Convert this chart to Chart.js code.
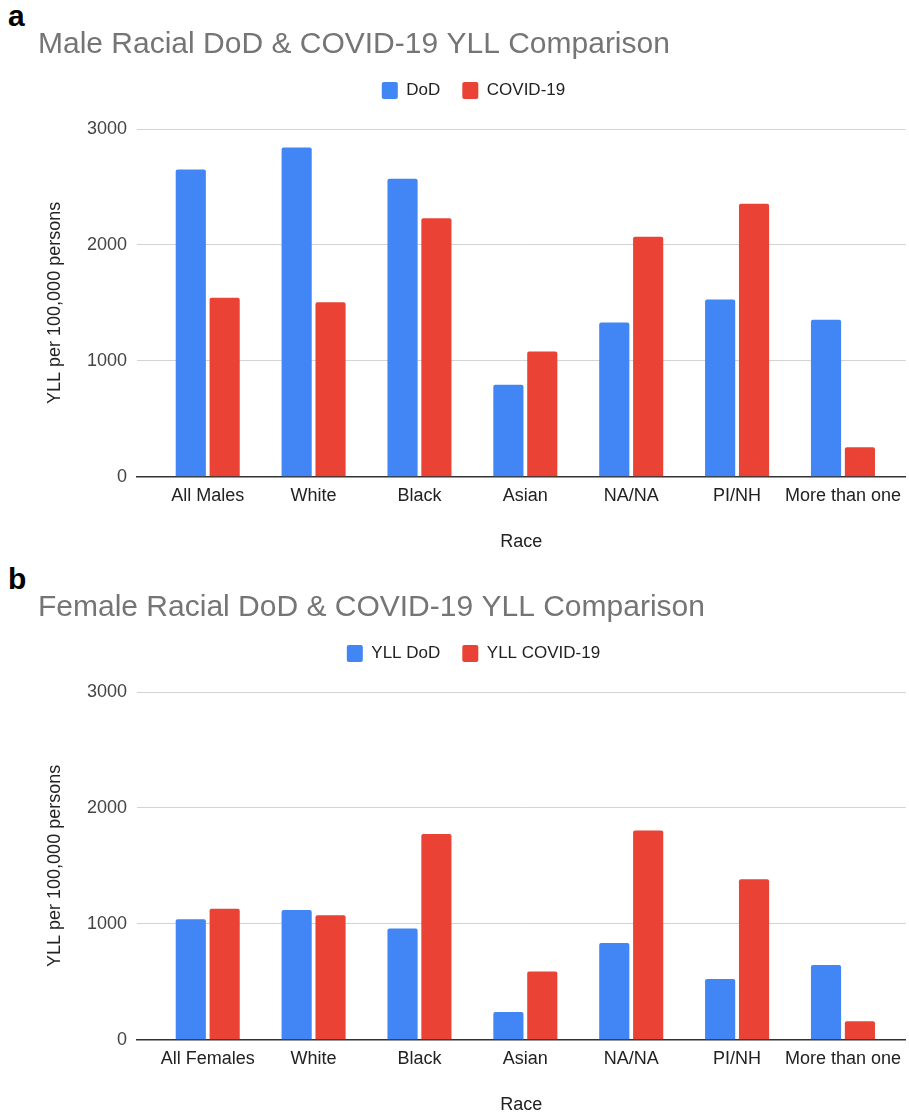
<!DOCTYPE html>
<html>
<head>
<meta charset="utf-8">
<script src="https://cdn.jsdelivr.net/npm/chart.js@4"></script>
<style>
  html, body { margin: 0; padding: 0; background: #fff; overflow: hidden; }
  body { width: 909px; height: 1117px; position: relative; font-family: "Liberation Sans", Arial, sans-serif; }
  .panel { position: absolute; left: 8px; font-weight: bold; font-size: 30px; line-height: 30px; color: #000; }
  canvas { position: absolute; left: 0; }
</style>
</head>
<body>
<div class="panel" style="top: 1px;">a</div>
<canvas id="maleChart" width="909" height="554" style="top: 0px;"></canvas>
<div class="panel" style="top: 564px;">b</div>
<canvas id="femaleChart" width="909" height="554" style="top: 563px;"></canvas>
<script>
const maleCategories = ["All Males", "White", "Black", "Asian", "NA/NA", "PI/NH", "More than one"];
const maleDod = [2650, 2840, 2570, 795, 1330, 1530, 1355];
const maleCovid = [1545, 1505, 2230, 1080, 2070, 2355, 255];

const femaleCategories = ["All Females", "White", "Black", "Asian", "NA/NA", "PI/NH", "More than one"];
const femaleDod = [1040, 1120, 960, 240, 835, 525, 645];
const femaleCovid = [1130, 1075, 1775, 590, 1805, 1385, 160];

const yTicks = [0, 1000, 2000, 3000];

const fontFamily = '"Liberation Sans", Arial, sans-serif';

// keep some room between the legend and the plot
const legendGap = {
  id: 'legendGap',
  beforeInit(chart) {
    const fit = chart.legend.fit;
    chart.legend.fit = function () {
      fit.call(this);
      this.height = 69;
    };
  }
};

const makeChart = (id, title, categories, dod, covid, names) => {
  const points = (vals) => vals.map((v, i) => ({x: i, y: v}));
  return new Chart(document.getElementById(id), {
    type: 'bar',
    data: {
      datasets: [{
        label: names[0],
        data: points(dod),
        backgroundColor: '#4285F4',
        borderRadius: {topLeft: 2, topRight: 2},
        borderSkipped: 'start',
        categoryPercentage: 0.64,
        barPercentage: 0.89
      }, {
        label: names[1],
        data: points(covid),
        backgroundColor: '#EA4335',
        borderRadius: {topLeft: 2, topRight: 2},
        borderSkipped: 'start',
        categoryPercentage: 0.64,
        barPercentage: 0.89
      }]
    },
    options: {
      responsive: false,
      animation: false,
      layout: {padding: {left: 38, right: 0, top: 0, bottom: 0}},
      plugins: {
        title: {
          display: true,
          text: title,
          align: 'start',
          color: '#757575',
          font: {family: fontFamily, size: 30, weight: 'normal', lineHeight: 1},
          padding: {top: 30, bottom: 0}
        },
        legend: {
          display: true,
          position: 'top',
          labels: {
            color: '#222',
            font: {family: fontFamily, size: 17},
            boxWidth: 16,
            boxHeight: 17,
            useBorderRadius: true,
            borderRadius: 2,
            padding: 22
          }
        },
        tooltip: {enabled: false}
      },
      scales: {
        x: {
          type: 'linear',
          offset: false,
          min: -0.668,
          max: 6.593,
          grid: {display: false, drawTicks: false, offset: false},
          border: {display: true, color: '#333', width: 1.5},
          afterBuildTicks: (scale) => {
            scale.ticks = categories.map((c, i) => ({value: i}));
          },
          ticks: {
            autoSkip: false,
            maxRotation: 0,
            padding: 8,
            color: '#222',
            font: {family: fontFamily, size: 18},
            callback: (v) => categories[v]
          },
          title: {
            display: true,
            text: 'Race',
            color: '#222',
            font: {family: fontFamily, size: 18},
            padding: {top: 17, bottom: 1}
          }
        },
        y: {
          min: yTicks[0],
          max: yTicks[yTicks.length - 1],
          afterBuildTicks: (scale) => {
            scale.ticks = yTicks.map(v => ({value: v}));
          },
          afterFit: (scale) => {
            scale.width = 99;
          },
          grid: {color: '#d3d3d3', lineWidth: 1, drawTicks: false},
          border: {display: false},
          ticks: {
            padding: 10,
            color: '#444',
            font: {family: fontFamily, size: 18},
            callback: (v) => String(v)
          },
          title: {
            display: true,
            text: 'YLL per 100,000 persons',
            color: '#222',
            font: {family: fontFamily, size: 18},
            padding: {top: 6, bottom: 0}
          }
        }
      }
    },
    plugins: [legendGap]
  });
};

makeChart('maleChart', 'Male Racial DoD & COVID-19 YLL Comparison', maleCategories, maleDod, maleCovid, ['DoD', 'COVID-19']);
makeChart('femaleChart', 'Female Racial DoD & COVID-19 YLL Comparison', femaleCategories, femaleDod, femaleCovid, ['YLL DoD', 'YLL COVID-19']);
</script>
</body>
</html>
